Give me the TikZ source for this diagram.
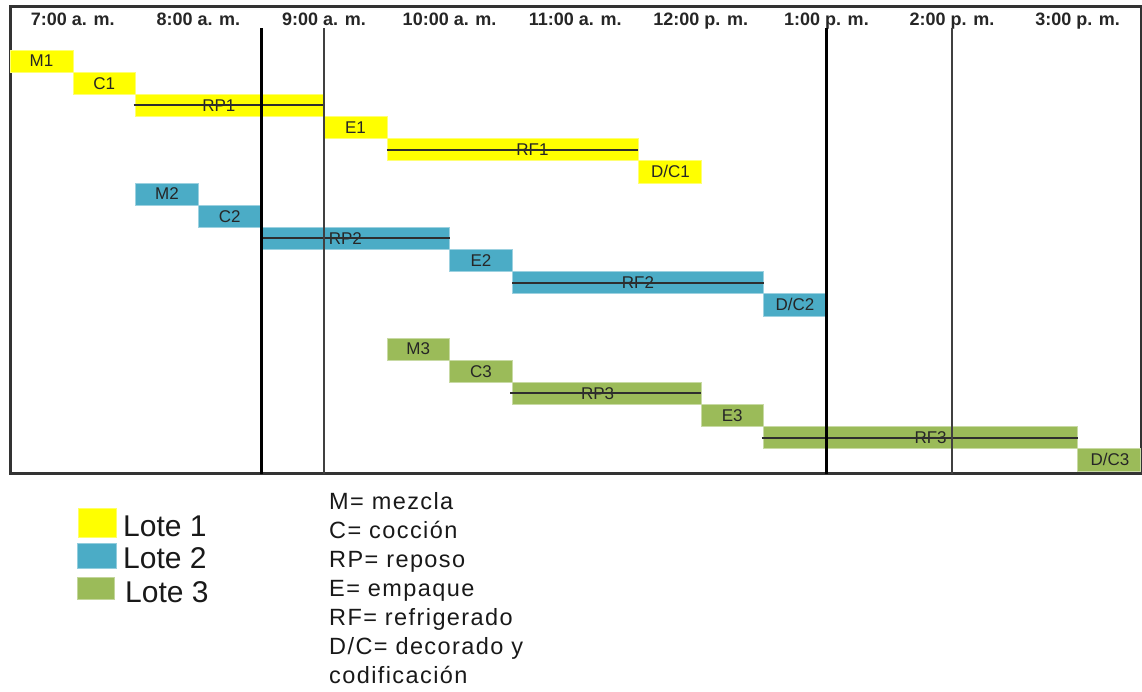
\documentclass[tikz,border=0pt]{standalone}
\usepackage{fontspec}
\setmainfont{Liberation Sans}
\newfontfamily\spacedfont[LetterSpace=6]{Liberation Sans}
\definecolor{lote1}{HTML}{FFFF00}
\definecolor{lote2}{HTML}{4BACC6}
\definecolor{lote3}{HTML}{9BBB59}
\newcommand\taskbar[7]{%
  \node[barbox=#2, minimum width=#4*62.8pt] (#1) at ({10+#3*62.8},{50+#5*22.15}) {};
  \node[barlabel] (#1t) at ([xshift=#7pt,yshift=-5.9pt]#1.center) {#6};
}
\begin{document}
\begin{tikzpicture}[x=1pt,y=-1pt,
  barbox/.style={draw=#1!55!white, fill=#1, line width=0.6pt, minimum height=22.15pt,
    inner sep=0pt, outer sep=0pt, anchor=north west},
  barlabel/.style={font=\fontsize{17}{19}\selectfont, text=black!85, inner sep=0pt, anchor=base},
  midline/.style={line width=2pt, draw=black!82},
  hourlabel/.style={font=\bfseries\fontsize{18}{20}\selectfont, text=black!85, inner sep=0pt, anchor=base},
  thickv/.style={line width=3pt, draw=black},
  thinv/.style={line width=2pt, draw=black!75},
  frame/.style={line width=2.2pt, draw=black!80},
  legbox/.style={fill=#1, draw=#1!60!white, line width=0.6pt, inner sep=0pt, anchor=north west},
  legtext/.style={font=\fontsize{30}{34}\selectfont, text=black!90, inner sep=0pt, anchor=base west},
  abbrev/.style={font=\spacedfont\fontsize{23.5}{29}\selectfont, text=black!90, inner sep=0pt, anchor=base west}
]
\useasboundingbox (0,0) rectangle (1142,691);

% frame
\draw[frame] (10.5,6.5) rectangle (1141,473.5);

% hour labels
\foreach \i/\t in {0/{7:00 a. m.},1/{8:00 a. m.},2/{9:00 a. m.},3/{10:00 a. m.},4/{11:00 a. m.},5/{12:00 p. m.},6/{1:00 p. m.},7/{2:00 p. m.},8/{3:00 p. m.}}
  \node[hourlabel] (h\i) at ({72.8+125.6*\i},25) {\t};

% Lote 1
\taskbar{m1}{lote1}{0}{1}{0}{M1}{0}
\taskbar{c1}{lote1}{1}{1}{1}{C1}{0}
\taskbar{rp1}{lote1}{2}{3}{2}{RP1}{-11}
\taskbar{e1}{lote1}{5}{1}{3}{E1}{0}
\taskbar{rf1}{lote1}{6}{4}{4}{RF1}{20}
\taskbar{dc1}{lote1}{10}{1}{5}{D/C1}{1}
% Lote 2
\taskbar{m2}{lote2}{2}{1}{6}{M2}{0}
\taskbar{c2}{lote2}{3}{1}{7}{C2}{0}
\taskbar{rp2}{lote2}{4}{3}{8}{RP2}{-10}
\taskbar{e2}{lote2}{7}{1}{9}{E2}{0}
\taskbar{rf2}{lote2}{8}{4}{10}{RF2}{0}
\taskbar{dc2}{lote2}{12}{1}{11}{D/C2}{0}
% Lote 3
\taskbar{m3}{lote3}{6}{1}{13}{M3}{0}
\taskbar{c3}{lote3}{7}{1}{14}{C3}{0}
\taskbar{rp3}{lote3}{8}{3}{15}{RP3}{-9}
\taskbar{e3}{lote3}{11}{1}{16}{E3}{0}
\taskbar{rf3}{lote3}{12}{5}{17}{RF3}{10}
\taskbar{dc3}{lote3}{17}{1}{18}{D/C3}{1}

% middle lines of the long bars
\draw[midline] ([xshift=-2pt]rp1.west) -- (rp1.east);
\draw[midline] (rf1.west) -- (rf1.east);
\draw[midline] (rp2.west) -- (rp2.east);
\draw[midline] (rf2.west) -- (rf2.east);
\draw[midline] ([xshift=-2pt]rp3.west) -- (rp3.east);
\draw[midline] ([xshift=-2pt]rf3.west) -- (rf3.east);

% vertical marker lines
\coordinate (va) at (261.2,28);  \coordinate (vab) at (261.2,473.5);
\coordinate (vb) at (324,28);    \coordinate (vbb) at (324,473.5);
\coordinate (vc) at (826.4,28);  \coordinate (vcb) at (826.4,473.5);
\coordinate (vd) at (952,28);    \coordinate (vdb) at (952,473.5);
\draw[thickv] (va) -- (vab);
\draw[thinv] (vb) -- (vbb);
\draw[thickv] (vc) -- (vcb);
\draw[thinv] (vd) -- (vdb);

% legend
\node[legbox=lote1, minimum width=38pt, minimum height=29pt] (l1) at (78,508) {};
\node[legbox=lote2, minimum width=39pt, minimum height=25pt] (l2) at (77,543) {};
\node[legbox=lote3, minimum width=37pt, minimum height=22pt] (l3) at (77,577) {};
\node[legtext] (l1t) at (123,536) {Lote 1};
\node[legtext] (l2t) at (123,568) {Lote 2};
\node[legtext] (l3t) at (125,602) {Lote 3};

% abbreviations
\foreach \k/\t in {0/{M= mezcla},1/{C= cocción},2/{RP= reposo},3/{E= empaque},4/{RF= refrigerado},5/{D/C= decorado y},6/{codificación}}
  \node[abbrev] (ab\k) at (329,{509+29*\k}) {\t};
\end{tikzpicture}
\end{document}
